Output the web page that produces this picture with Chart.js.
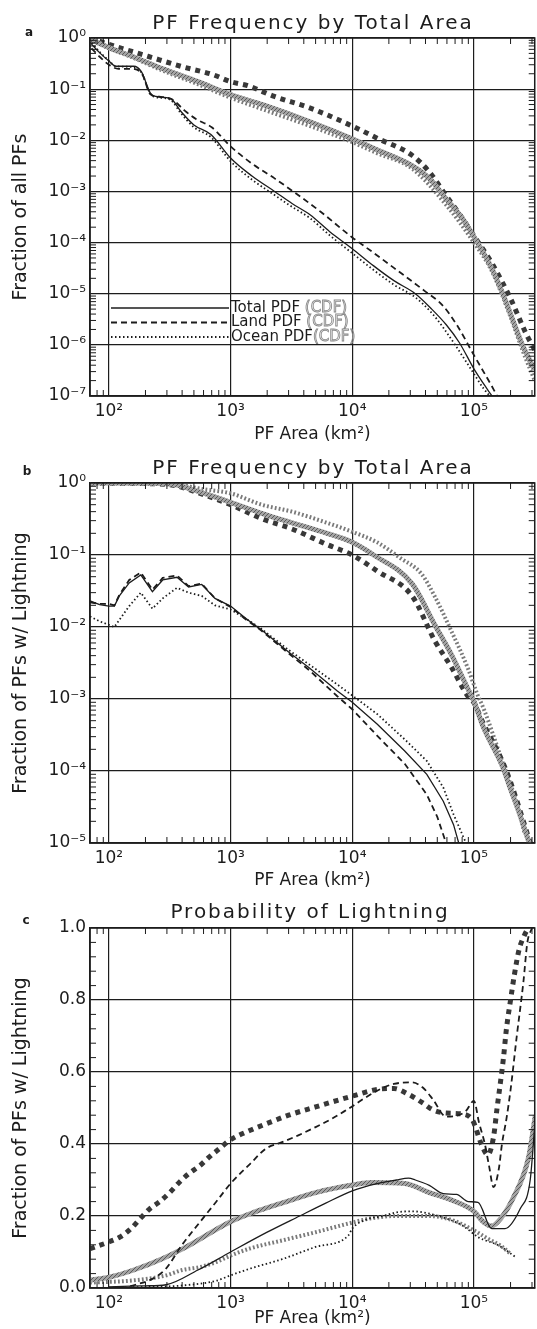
<!DOCTYPE html>
<html>
<head>
<meta charset="utf-8">
<script src="https://cdn.jsdelivr.net/npm/chart.js@4.4.1/dist/chart.umd.min.js"></script>
<style>
  body { margin: 0; background: #fff; width: 537px; height: 1329px; position: relative; overflow: hidden; }
  canvas { position: absolute; left: 0; }
</style>
</head>
<body>
<canvas id="panelA" width="537" height="445" style="top:0"></canvas>
<canvas id="panelB" width="537" height="466" style="top:425px"></canvas>
<canvas id="panelC" width="537" height="439" style="top:890px"></canvas>
<script>
// ── Axis ranges and tick labels ──
const AREA_MIN = 70;
const AREA_MAX = 3.16e5;
const areaMajor = [1e2, 1e3, 1e4, 1e5];
const areaMajorLabels = ['10²', '10³', '10⁴', '10⁵'];
const fracAMajor = [1e-7, 1e-6, 1e-5, 1e-4, 1e-3, 1e-2, 1e-1, 1];
const fracAMajorLabels = ['10⁻⁷', '10⁻⁶', '10⁻⁵', '10⁻⁴', '10⁻³', '10⁻²', '10⁻¹', '10⁰'];
const fracBMajor = [1e-5, 1e-4, 1e-3, 1e-2, 1e-1, 1];
const fracBMajorLabels = ['10⁻⁵', '10⁻⁴', '10⁻³', '10⁻²', '10⁻¹', '10⁰'];
const probMajor = [0, 0.2, 0.4, 0.6, 0.8, 1.0];
const probMajorLabels = ['0.0', '0.2', '0.4', '0.6', '0.8', '1.0'];
const legendNames = ['Total PDF', 'Land PDF', 'Ocean PDF'];
const legendTag = '(CDF)';

// ── Panel a: fraction of all PFs ──
const aAreaTotPdf = [72, 85, 100, 114, 160, 185, 220, 242, 320, 390, 500, 690, 1000, 1500, 2300, 3200, 4500, 6500, 10000, 15000, 22000, 33000, 45000, 59000, 76000, 100000, 129000, 141000];
const aFracTotPdf = [0.76, 0.5, 0.355, 0.28, 0.28, 0.22, 0.083, 0.072, 0.066, 0.037, 0.02, 0.013, 0.0045, 0.002, 0.001, 5.8e-4, 3.5e-4, 1.65e-4, 7.6e-5, 3.5e-5, 1.8e-5, 1e-5, 5e-6, 2.5e-6, 1.1e-6, 3.4e-7, 1.35e-7, 1e-7];
const aAreaLandPdf = [72, 85, 100, 120, 150, 185, 220, 260, 330, 420, 520, 700, 1000, 1500, 2300, 3500, 5500, 10000, 15000, 22000, 40000, 55000, 72000, 100000, 145000, 155000];
const aFracLandPdf = [0.63, 0.42, 0.3, 0.25, 0.25, 0.21, 0.079, 0.071, 0.063, 0.038, 0.026, 0.018, 0.0076, 0.0035, 0.0018, 8.9e-4, 4e-4, 1.26e-4, 6.3e-5, 3.2e-5, 1.1e-5, 6e-6, 2.5e-6, 6.3e-7, 1.35e-7, 1e-7];
const aAreaOcnPdf = [72, 85, 100, 114, 160, 185, 220, 242, 320, 390, 500, 690, 1000, 1500, 2300, 3200, 4500, 6500, 10000, 15000, 22000, 33000, 45000, 55000, 70000, 95000, 120000, 135000];
const aFracOcnPdf = [0.8, 0.52, 0.36, 0.28, 0.27, 0.21, 0.08, 0.07, 0.062, 0.034, 0.018, 0.0115, 0.0039, 0.0017, 8.5e-4, 5e-4, 3e-4, 1.4e-4, 6.2e-5, 2.9e-5, 1.5e-5, 8.5e-6, 4.2e-6, 2.3e-6, 1e-6, 3.3e-7, 1.4e-7, 1e-7];
const aAreaTotCdf = [70, 100, 155, 290, 540, 1000, 1860, 4500, 10000, 16000, 31000, 43000, 59000, 81000, 100000, 137000, 170000, 200000, 250000, 316000];
const aFracTotCdf = [0.95, 0.65, 0.44, 0.24, 0.14, 0.078, 0.049, 0.023, 0.0107, 0.0065, 0.0032, 0.0018, 7.2e-4, 2.9e-4, 1.3e-4, 3.5e-5, 1.1e-5, 4e-6, 1e-6, 3.2e-7];
const aAreaLandCdf = [70, 112, 209, 389, 724, 1000, 1380, 2290, 4470, 10000, 16000, 31000, 43000, 59000, 81000, 100000, 140000, 200000, 270000, 316000];
const aFracLandCdf = [1.0, 0.69, 0.44, 0.28, 0.19, 0.14, 0.117, 0.072, 0.043, 0.019, 0.011, 0.0051, 0.0024, 8.3e-4, 2.9e-4, 1.35e-4, 4e-5, 8e-6, 1.6e-6, 8e-7];
const aAreaOcnCdf = [70, 100, 155, 290, 540, 1000, 1860, 4500, 10000, 16000, 31000, 59000, 100000, 140000, 200000, 250000, 316000];
const aFracOcnCdf = [0.93, 0.63, 0.42, 0.22, 0.125, 0.068, 0.04, 0.019, 0.0092, 0.0056, 0.0028, 5.5e-4, 1e-4, 2.8e-5, 3.5e-6, 8e-7, 2e-7];

// ── Panel b: fraction of PFs w/ lightning ──
const bAreaTotPdf = [70, 84, 100, 111, 122, 147, 183, 228, 277, 363, 452, 580, 745, 1000, 1380, 1780, 3000, 4450, 7500, 10000, 16000, 27000, 41000, 56000, 68000, 75000];
const bFracTotPdf = [0.023, 0.0205, 0.0195, 0.0195, 0.027, 0.041, 0.053, 0.031, 0.045, 0.049, 0.036, 0.039, 0.025, 0.0195, 0.0126, 0.0092, 0.0045, 0.0027, 0.0013, 9e-4, 4.5e-4, 1.9e-4, 9e-5, 3.8e-5, 1.8e-5, 1e-5];
const bAreaLandPdf = [70, 84, 100, 111, 122, 147, 183, 228, 277, 363, 452, 580, 745, 1000, 1380, 1780, 3000, 4450, 7500, 10000, 16000, 27000, 41000, 50000, 59000];
const bFracLandPdf = [0.022, 0.021, 0.021, 0.02, 0.028, 0.045, 0.057, 0.033, 0.048, 0.052, 0.037, 0.04, 0.025, 0.019, 0.0122, 0.009, 0.0043, 0.0025, 0.0011, 7.2e-4, 3.1e-4, 1.26e-4, 4.7e-5, 2.3e-5, 1e-5];
const bAreaOcnPdf = [70, 84, 100, 111, 147, 183, 228, 277, 363, 452, 580, 745, 1000, 1380, 1780, 3000, 4450, 7500, 10000, 16000, 27000, 41000, 56000, 68000, 85000];
const bFracOcnPdf = [0.014, 0.012, 0.0107, 0.01, 0.0195, 0.03, 0.018, 0.025, 0.035, 0.03, 0.027, 0.02, 0.0175, 0.0126, 0.0095, 0.0048, 0.003, 0.0016, 0.00112, 6.2e-4, 2.75e-4, 1.38e-4, 5.9e-5, 2.5e-5, 1.05e-5];
const bAreaTotCdf = [70, 200, 340, 570, 1000, 1800, 3200, 6200, 10000, 15000, 31000, 48000, 65000, 89000, 100000, 120000, 170000, 200000, 240000, 280000, 316000];
const bFracTotCdf = [1, 0.99, 0.955, 0.74, 0.54, 0.38, 0.28, 0.2, 0.15, 0.1, 0.04, 0.0105, 0.0042, 0.0014, 9.3e-4, 4e-4, 1.2e-4, 5.6e-5, 2.4e-5, 1.1e-5, 7e-6];
const bAreaLandCdf = [70, 200, 340, 570, 1000, 1800, 3200, 6200, 10000, 16000, 31000, 48000, 65000, 89000, 100000, 120000, 170000, 200000, 260000, 290000];
const bFracLandCdf = [1, 0.98, 0.93, 0.71, 0.5, 0.32, 0.23, 0.14, 0.1, 0.06, 0.027, 0.0063, 0.0028, 0.0011, 8.9e-4, 4.5e-4, 1.4e-4, 7e-5, 1.8e-5, 1e-5];
const bAreaOcnCdf = [70, 200, 340, 570, 1000, 1800, 3200, 6200, 10000, 16000, 25000, 37000, 48000, 65000, 89000, 107000, 120000, 170000, 220000, 260000];
const bFracOcnCdf = [1, 1, 0.98, 0.83, 0.72, 0.5, 0.4, 0.28, 0.21, 0.15, 0.09, 0.055, 0.026, 0.0089, 0.0027, 0.00115, 7.4e-4, 1.4e-4, 4e-5, 1.4e-5];

// ── Panel c: probability of lightning ──
const cAreaTotPdf = [100, 150, 200, 295, 540, 1000, 2000, 3700, 6000, 10000, 16000, 23000, 29000, 33000, 43000, 56000, 72000, 90000, 108000, 140000, 180000, 240000, 290000, 316000];
const cProbTotPdf = [0.003, 0.005, 0.006, 0.009, 0.05, 0.1, 0.155, 0.2, 0.235, 0.27, 0.29, 0.3, 0.305, 0.3, 0.285, 0.262, 0.26, 0.24, 0.238, 0.165, 0.165, 0.22, 0.3, 0.45];
const cAreaLandPdf = [150, 230, 295, 400, 560, 760, 1000, 1450, 1950, 2650, 3600, 5000, 6800, 9300, 16000, 22000, 31000, 38000, 46000, 59000, 85000, 100000, 110000, 123000, 133000, 145000, 160000, 170000, 185000, 200000, 225000, 255000, 275000, 300000];
const cProbLandPdf = [0.005, 0.026, 0.054, 0.12, 0.183, 0.239, 0.29, 0.345, 0.387, 0.405, 0.424, 0.447, 0.47, 0.498, 0.548, 0.567, 0.571, 0.557, 0.524, 0.476, 0.49, 0.52, 0.46, 0.4, 0.34, 0.28, 0.33, 0.4, 0.47, 0.55, 0.7, 0.85, 0.96, 1.0];
const cAreaOcnPdf = [100, 200, 400, 760, 1000, 1450, 2650, 5000, 9300, 10000, 13000, 18000, 23000, 31000, 51000, 80000, 110000, 160000, 220000];
const cProbOcnPdf = [0.001, 0.003, 0.007, 0.02, 0.035, 0.054, 0.08, 0.114, 0.146, 0.165, 0.19, 0.2, 0.21, 0.213, 0.2, 0.174, 0.14, 0.118, 0.086];
const cAreaTotCdf = [70, 100, 160, 278, 410, 1000, 1550, 2600, 5000, 10000, 14600, 27000, 43000, 67000, 100000, 120000, 140000, 166000, 210000, 280000, 320000];
const cProbTotCdf = [0.022, 0.03, 0.05, 0.082, 0.11, 0.184, 0.21, 0.235, 0.265, 0.286, 0.293, 0.29, 0.265, 0.243, 0.213, 0.183, 0.172, 0.193, 0.25, 0.36, 0.48];
const cAreaLandCdf = [70, 100, 124, 152, 178, 217, 262, 316, 380, 455, 560, 670, 810, 980, 1450, 2100, 3000, 5000, 10000, 16300, 22000, 29000, 38000, 46000, 59000, 77000, 97000, 115000, 130000, 145000, 155000, 165000, 175000, 185000, 200000, 215000, 235000, 260000, 280000];
const cProbLandCdf = [0.109, 0.128, 0.142, 0.165, 0.19, 0.22, 0.24, 0.265, 0.294, 0.318, 0.34, 0.364, 0.387, 0.41, 0.438, 0.46, 0.48, 0.503, 0.533, 0.552, 0.554, 0.538, 0.514, 0.495, 0.486, 0.484, 0.467, 0.4, 0.37, 0.42, 0.5, 0.57, 0.64, 0.72, 0.8, 0.87, 0.94, 0.98, 1.0];
const cAreaOcnCdf = [70, 157, 295, 400, 560, 760, 1000, 1450, 2650, 5000, 9300, 14000, 23000, 43000, 67000, 100000, 130000, 165000, 200000];
const cProbOcnCdf = [0.015, 0.021, 0.035, 0.05, 0.058, 0.072, 0.09, 0.11, 0.132, 0.155, 0.179, 0.193, 0.2, 0.2, 0.188, 0.16, 0.137, 0.118, 0.095];

// ── Shared look ──
const INK = '#1c1c1c';
const FONT = '"DejaVu Sans", sans-serif';

function hatch(base, dark) {
  const c = document.createElement('canvas');
  c.width = c.height = 4;
  const g = c.getContext('2d');
  g.fillStyle = base; g.fillRect(0, 0, 4, 4);
  g.fillStyle = dark;
  [[0, 0], [2, 2], [1, 3], [3, 1]].forEach(([px, py]) => g.fillRect(px, py, 1, 1));
  return g.createPattern(c, 'repeat');
}

const STYLES = {
  totPdf:  { borderColor: INK, borderWidth: 1.3, borderDash: [], order: 0 },
  landPdf: { borderColor: INK, borderWidth: 1.8, borderDash: [6, 4], order: 0 },
  ocnPdf:  { borderColor: INK, borderWidth: 1.8, borderDash: [1.5, 2.5], order: 0 },
  totCdf:  { borderColor: hatch('#a4a4a4', '#5a5a5a'), borderWidth: 5, borderDash: [], order: 1 },
  landCdf: { borderColor: '#383838', borderWidth: 5, borderDash: [5, 5], order: 1 },
  ocnCdf:  { borderColor: '#7a7a7a', borderWidth: 4, borderDash: [1.8, 2.2], order: 1 },
};

const pts = (xs, ys) => xs.map((x, i) => ({ x, y: ys[i] }));
const isMajorLog = v => Math.abs(Math.log10(v) - Math.round(Math.log10(v))) < 1e-9;
const labelFor = (v, majors, labels) => {
  const i = majors.findIndex(m => Math.abs(v - m) <= Math.max(Math.abs(m), 1e-12) * 1e-6);
  return i >= 0 ? labels[i] : '';
};

function logTicks(min, max) {
  const out = [];
  for (let e = Math.floor(Math.log10(min)); e <= Math.ceil(Math.log10(max)); e++) {
    for (let m = 1; m <= 9; m++) {
      const v = m * Math.pow(10, e);
      if (v >= min * 0.999 && v <= max * 1.001) out.push(v);
    }
  }
  return out;
}

const probMinor = [];
for (let i = 1; i < 25; i++) if (i % 5 !== 0) probMinor.push(i * 0.04);

// ── Decorations: frame, inward minor ticks, panel title, letter, legend ──
const pfDecor = {
  id: 'pfDecor',
  afterDraw(chart, args, o) {
    const { ctx, chartArea: ca, scales: { x, y } } = chart;
    ctx.save();
    ctx.strokeStyle = INK;
    ctx.setLineDash([]);
    ctx.lineWidth = 1.5;
    ctx.strokeRect(ca.left, ca.top, ca.right - ca.left, ca.bottom - ca.top);

    ctx.lineWidth = 1;
    ctx.beginPath();
    x.ticks.forEach(t => {
      if (isMajorLog(t.value)) return;
      const px = x.getPixelForValue(t.value);
      ctx.moveTo(px, ca.bottom); ctx.lineTo(px, ca.bottom - 6);
      ctx.moveTo(px, ca.top); ctx.lineTo(px, ca.top + 6);
    });
    const yMinor = o.yMinor || y.ticks.map(t => t.value).filter(v => !isMajorLog(v));
    yMinor.forEach(v => {
      const py = y.getPixelForValue(v);
      ctx.moveTo(ca.left, py); ctx.lineTo(ca.left + 6, py);
      ctx.moveTo(ca.right, py); ctx.lineTo(ca.right - 6, py);
    });
    ctx.stroke();

    ctx.fillStyle = INK;
    ctx.textAlign = 'center';
    ctx.textBaseline = 'alphabetic';
    ctx.font = '20px ' + FONT;
    ctx.letterSpacing = '2px';
    ctx.fillText(o.title, o.titleX, o.titleY);
    ctx.letterSpacing = '0px';
    ctx.font = 'bold 12px ' + FONT;
    ctx.fillText(o.letter, o.letterX, o.letterY);

    if (o.legend) {
      const lg = o.legend;
      const thin = chart.data.datasets.filter(d => d.legendName);
      ctx.textAlign = 'left';
      ctx.textBaseline = 'middle';
      thin.forEach((d, i) => {
        const ly = lg.y0 + i * lg.dy;
        ctx.strokeStyle = INK;
        ctx.lineWidth = d.borderWidth + 0.4;
        ctx.setLineDash(d.borderDash);
        ctx.beginPath(); ctx.moveTo(lg.x0, ly); ctx.lineTo(lg.x1, ly); ctx.stroke();
        ctx.setLineDash([]);
        ctx.font = '15px ' + FONT;
        ctx.fillText(d.legendName, lg.x1 + 2, ly);
        const w = ctx.measureText(d.legendName + (i < 2 ? ' ' : '')).width;
        ctx.strokeStyle = '#8a8a8a';
        ctx.lineWidth = 0.9;
        ctx.strokeText(legendTag, lg.x1 + 2 + w, ly);
      });
    }
    ctx.restore();
  }
};

// ── Build one panel ──
function makePanel(id, p) {
  const datasets = p.series.map(s => Object.assign({}, STYLES[s.kind], {
    data: pts(s.x, s.y),
    legendName: s.legendName,
    pointRadius: 0,
    fill: false,
    cubicInterpolationMode: s.smooth === false ? 'default' : 'monotone',
    tension: s.smooth === false ? 0 : 0.3,
  }));
  const yScale = p.yLog ? {
    type: 'logarithmic', min: p.yMin, max: p.yMax,
    afterBuildTicks: s => { s.ticks = logTicks(p.yMin, p.yMax).map(v => ({ value: v })); },
    ticks: { autoSkip: false, padding: 4, color: INK, font: { family: FONT, size: 17 },
             callback: v => labelFor(v, p.yMajor, p.yLabels) },
    grid: { drawTicks: false, lineWidth: 1.2, color: c => (c.tick && isMajorLog(c.tick.value)) ? INK : 'rgba(0,0,0,0)' },
  } : {
    type: 'linear', min: p.yMin, max: p.yMax,
    ticks: { stepSize: 0.2, padding: 4, color: INK, font: { family: FONT, size: 17 },
             callback: v => labelFor(v, p.yMajor, p.yLabels) },
    grid: { drawTicks: false, lineWidth: 1.2, color: INK },
  };
  Object.assign(yScale, {
    afterFit: s => { s.width = 80; },
    border: { color: INK, width: 1.5 },
    title: { display: true, text: p.yTitle, color: INK, font: { family: FONT, size: 19 }, padding: { top: 0, bottom: 0 } },
  });

  return new Chart(document.getElementById(id), {
    type: 'line',
    data: { datasets },
    options: {
      responsive: false,
      animation: false,
      devicePixelRatio: 1,
      layout: { padding: { top: p.top, right: 2, left: 10, bottom: 0 } },
      plugins: {
        legend: { display: false },
        tooltip: { enabled: false },
        pfDecor: p.decor,
      },
      scales: {
        x: {
          type: 'logarithmic', min: AREA_MIN, max: AREA_MAX,
          afterBuildTicks: s => { s.ticks = logTicks(AREA_MIN, AREA_MAX).filter(v => v > AREA_MIN).map(v => ({ value: v })); },
          afterFit: s => { s.height = p.xAxisH; },
          ticks: { autoSkip: false, maxRotation: 0, padding: 5, color: INK, font: { family: FONT, size: 17 },
                   callback: v => labelFor(v, areaMajor, areaMajorLabels) },
          grid: { drawTicks: false, lineWidth: 1.2, color: c => (c.tick && isMajorLog(c.tick.value)) ? INK : 'rgba(0,0,0,0)' },
          border: { color: INK, width: 1.5 },
          title: { display: true, text: 'PF Area (km²)', color: INK, font: { family: FONT, size: 17 }, padding: { top: 0, bottom: 0 } },
        },
        y: yScale,
      },
    },
    plugins: [pfDecor],
  });
}

makePanel('panelA', {
  top: 38, xAxisH: 49, yLog: true, yMin: 1e-7, yMax: 1,
  yMajor: fracAMajor, yLabels: fracAMajorLabels, yTitle: 'Fraction of all PFs',
  decor: { title: 'PF Frequency by Total Area', titleX: 313, titleY: 29, letter: 'a', letterX: 29, letterY: 36,
           legend: { x0: 111, x1: 229, y0: 308, dy: 14.5 } },
  series: [
    { kind: 'totPdf', x: aAreaTotPdf, y: aFracTotPdf, legendName: legendNames[0] },
    { kind: 'landPdf', x: aAreaLandPdf, y: aFracLandPdf, legendName: legendNames[1] },
    { kind: 'ocnPdf', x: aAreaOcnPdf, y: aFracOcnPdf, legendName: legendNames[2] },
    { kind: 'totCdf', x: aAreaTotCdf, y: aFracTotCdf },
    { kind: 'landCdf', x: aAreaLandCdf, y: aFracLandCdf },
    { kind: 'ocnCdf', x: aAreaOcnCdf, y: aFracOcnCdf },
  ],
});

makePanel('panelB', {
  top: 58, xAxisH: 48, yLog: true, yMin: 1e-5, yMax: 1,
  yMajor: fracBMajor, yLabels: fracBMajorLabels, yTitle: 'Fraction of PFs w/ Lightning',
  decor: { title: 'PF Frequency by Total Area', titleX: 313, titleY: 49, letter: 'b', letterX: 27, letterY: 50 },
  series: [
    { kind: 'totPdf', x: bAreaTotPdf, y: bFracTotPdf, smooth: false },
    { kind: 'landPdf', x: bAreaLandPdf, y: bFracLandPdf, smooth: false },
    { kind: 'ocnPdf', x: bAreaOcnPdf, y: bFracOcnPdf, smooth: false },
    { kind: 'totCdf', x: bAreaTotCdf, y: bFracTotCdf },
    { kind: 'landCdf', x: bAreaLandCdf, y: bFracLandCdf },
    { kind: 'ocnCdf', x: bAreaOcnCdf, y: bFracOcnCdf },
  ],
});

makePanel('panelC', {
  top: 38, xAxisH: 41, yLog: false, yMin: 0, yMax: 1,
  yMajor: probMajor, yLabels: probMajorLabels, yTitle: 'Fraction of PFs w/ Lightning',
  decor: { title: 'Probability of Lightning', titleX: 310, titleY: 28, letter: 'c', letterX: 26, letterY: 34, yMinor: probMinor },
  series: [
    { kind: 'totPdf', x: cAreaTotPdf, y: cProbTotPdf },
    { kind: 'landPdf', x: cAreaLandPdf, y: cProbLandPdf },
    { kind: 'ocnPdf', x: cAreaOcnPdf, y: cProbOcnPdf },
    { kind: 'totCdf', x: cAreaTotCdf, y: cProbTotCdf },
    { kind: 'landCdf', x: cAreaLandCdf, y: cProbLandCdf },
    { kind: 'ocnCdf', x: cAreaOcnCdf, y: cProbOcnCdf },
  ],
});
</script>
</body>
</html>
